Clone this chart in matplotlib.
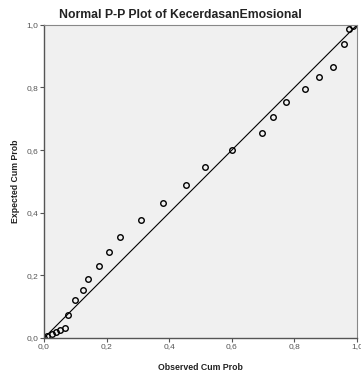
import matplotlib.pyplot as plt
from matplotlib.ticker import FuncFormatter

# Datos del gráfico P-P
observado = [0.0, 0.011, 0.024, 0.037, 0.052, 0.067, 0.075, 0.099, 0.124, 0.141,
             0.174, 0.206, 0.244, 0.311, 0.380, 0.452, 0.513, 0.601, 0.697,
             0.732, 0.774, 0.833, 0.879, 0.923, 0.958, 0.975, 0.988]
esperado = [0.0, 0.005, 0.012, 0.018, 0.024, 0.031, 0.074, 0.122, 0.153, 0.188,
            0.229, 0.273, 0.324, 0.376, 0.432, 0.488, 0.545, 0.601, 0.656,
            0.706, 0.753, 0.795, 0.833, 0.866, 0.939, 0.988, 0.995]
marcas = [0.0, 0.2, 0.4, 0.6, 0.8, 1.0]

plt.rcParams['font.family'] = ['Liberation Sans', 'DejaVu Sans']

fig = plt.figure(figsize=(3.61, 3.71), dpi=100)
ax = fig.add_axes([0.122, 0.089, 0.867, 0.844])
ax.set_facecolor('#f0f0f0')

ax.plot([0, 1], [0, 1], color='black', lw=0.8)
ax.plot(observado, esperado, ls='none', marker='o', markersize=4,
        markerfacecolor='none', markeredgecolor='black', markeredgewidth=1.0)

ax.set_xlim(0, 1)
ax.set_ylim(0, 1)
ax.set_xticks(marcas)
ax.set_yticks(marcas)
fmt = FuncFormatter(lambda v, p: f'{v:.1f}'.replace('.', ','))
ax.xaxis.set_major_formatter(fmt)
ax.yaxis.set_major_formatter(fmt)
ax.tick_params(direction='out', length=3, width=0.8, labelsize=6,
               labelcolor='#555555', color='#555555', pad=1)

for lado in ['top', 'right']:
    ax.spines[lado].set_color('#888888')
    ax.spines[lado].set_linewidth(0.8)
for lado in ['left', 'bottom']:
    ax.spines[lado].set_color('#555555')
    ax.spines[lado].set_linewidth(1.0)

# Título centrado en la figura
fig.text(0.5, 0.96, 'Normal P-P Plot of KecerdasanEmosional', fontsize=8.8,
         fontweight='bold', ha='center', va='center', color='#222222')
ax.set_xlabel('Observed Cum Prob', fontsize=6.3, fontweight='bold', labelpad=9,
              color='#222222')
ax.set_ylabel('Expected Cum Prob', fontsize=6.3, fontweight='bold', labelpad=5,
              color='#222222')

plt.savefig('out.png', dpi=100)
